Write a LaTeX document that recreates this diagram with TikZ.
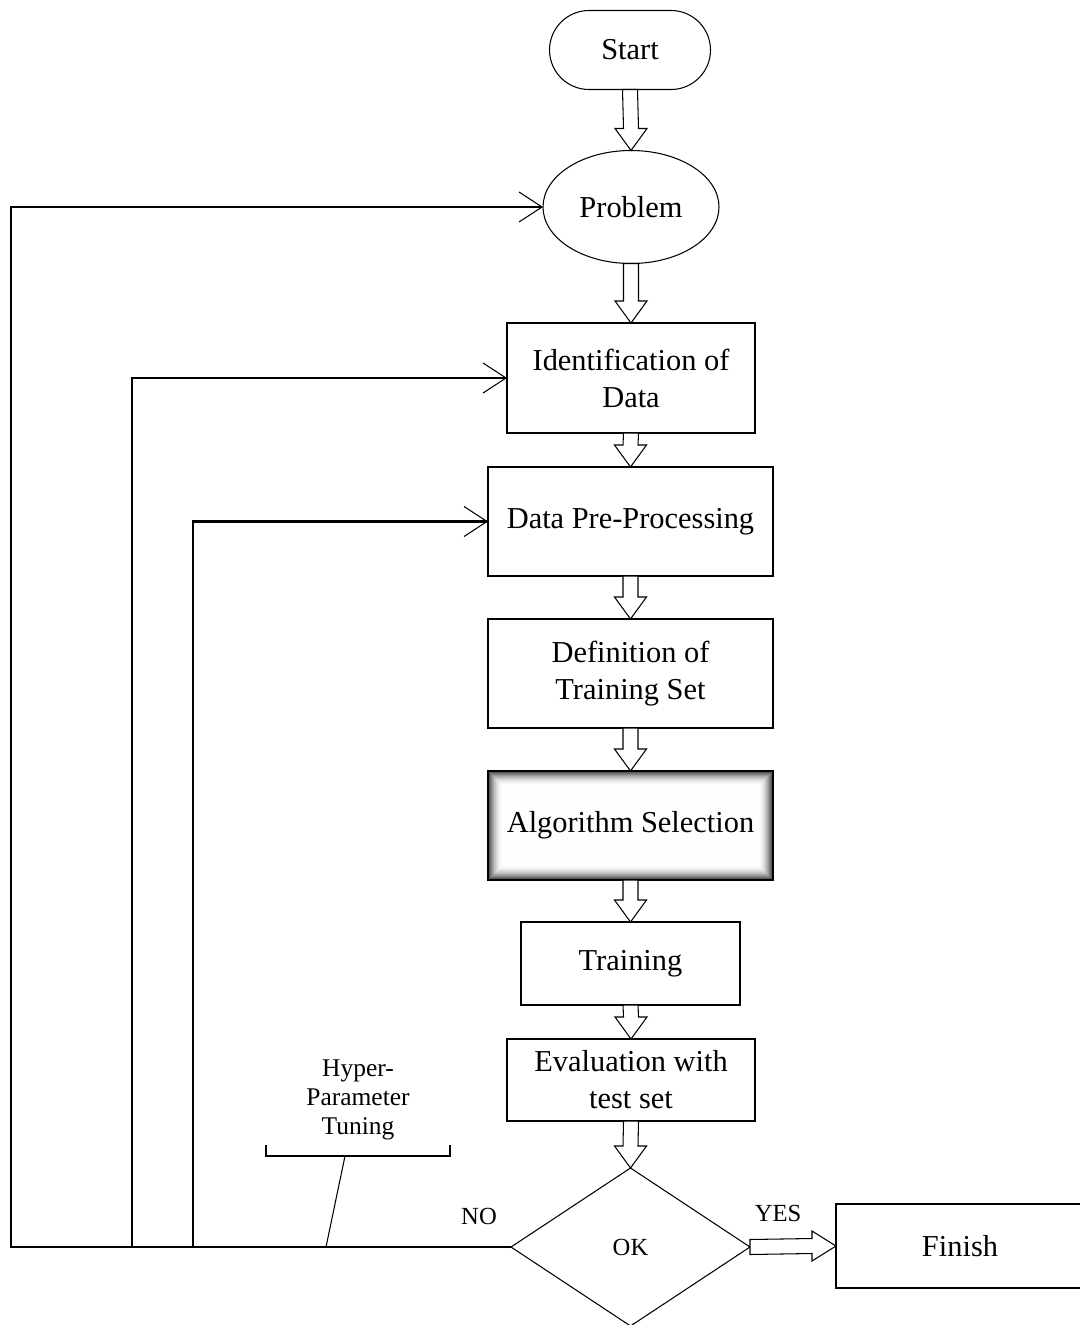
\documentclass[tikz,border=0pt]{standalone}
\usepackage{fontspec}
\setmainfont{Liberation Serif}
\usetikzlibrary{shapes.geometric,arrows.meta,calc}

\tikzset{
  box/.style={draw,line width=0.6pt,rectangle,align=center,inner sep=0pt,outer sep=0pt,
    font=\fontsize{17.3}{21}\selectfont},
  startbox/.style={box,minimum width=3.22cm,minimum height=1.58cm,rounded corners=0.79cm},
  probellipse/.style={box,ellipse,minimum width=3.52cm,minimum height=2.26cm},
  decision/.style={box,diamond,minimum width=4.78cm,minimum height=3.16cm,
    font=\fontsize{14}{17}\selectfont},
  glowbox/.style={box,path picture={
      \foreach \i in {0,...,14}{
        \pgfmathsetmacro\glowval{75*(1-\i/15)^2}
        \fill[black!\glowval] ($(path picture bounding box.south west)+(\i*0.02,\i*0.02)$)
          rectangle ($(path picture bounding box.north east)-(\i*0.02,\i*0.02)$);
      }}},
  smalltext/.style={align=center,inner sep=0pt,font=\fontsize{14}{16.4}\selectfont},
  fatarrow/.style={draw,fill=white,line width=0.6pt,line join=miter},
  loopline/.style={line width=1.2pt,-{Straight Barb[length=0.46cm,width=0.6cm,line width=0.6pt]}},
}

% hollow block arrows
\newcommand{\fatdown}[2]{%
  \path[fatarrow] ($(#1.south)+(-0.15,0)$) -- ($(#2.north)+(-0.15,0.44)$) -- ++(-0.17,0)
    -- (#2.north) -- ++(0.32,0.44) -- ++(-0.17,0) -- ($(#1.south)+(0.15,0)$) -- cycle;}
\newcommand{\fatright}[2]{%
  \path[fatarrow] ($(#1.east)+(0,0.15)$) -- ($(#2.west)+(-0.48,0.15)$) -- ++(0,0.15)
    -- (#2.west) -- ++(-0.48,-0.3) -- ++(0,0.15) -- ($(#1.east)+(0,-0.15)$) -- cycle;}

\begin{document}
\begin{tikzpicture}
    \useasboundingbox (0,0) rectangle (21.6,-26.5);
    \fill[white] (0,0) rectangle (21.6,-26.5);

    % main column
    \node[startbox] (start) at (12.6,-1.0) {Start};
    \node[probellipse] (problem) at (12.62,-4.14) {Problem};
    \node[box,minimum width=4.96cm,minimum height=2.2cm] (ident) at (12.62,-7.56) {Identification of\\Data};
    \node[box,minimum width=5.7cm,minimum height=2.18cm] (prep) at (12.61,-10.43) {Data Pre-Processing};
    \node[box,minimum width=5.7cm,minimum height=2.18cm] (defn) at (12.61,-13.47) {Definition of\\Training Set};
    \node[glowbox,minimum width=5.7cm,minimum height=2.18cm] (algo) at (12.61,-16.51) {Algorithm Selection};
    \node[box,minimum width=4.38cm,minimum height=1.66cm] (train) at (12.61,-19.27) {Training};
    \node[box,minimum width=4.96cm,minimum height=1.64cm] (eval) at (12.62,-21.6) {Evaluation with\\test set};
    \node[decision] (ok) at (12.61,-24.94) {OK};
    \node[box,minimum width=4.96cm,minimum height=1.68cm] (finish) at (19.2,-24.92) {Finish};

    \fatdown{start}{problem}
    \fatdown{problem}{ident}
    \fatdown{ident}{prep}
    \fatdown{prep}{defn}
    \fatdown{defn}{algo}
    \fatdown{algo}{train}
    \fatdown{train}{eval}
    \fatdown{eval}{ok}
    \fatright{ok}{finish}

    \node[smalltext] (no) at (9.58,-24.32) {NO};
    \node[smalltext] (yes) at (15.56,-24.26) {YES};

    % feedback loops
    \coordinate (loopa) at (0.22,-24.94);
    \coordinate (loopb) at (2.64,-24.94);
    \coordinate (loopc) at (3.86,-24.94);
    \draw[loopline] (ok.west) -- (loopa) |- (problem.west);
    \draw[loopline] (loopb) |- (ident.west);
    \draw[loopline] (loopc) |- (prep.west);

    % callout
    \node[smalltext,font=\fontsize{14.5}{16.6}\selectfont] (tuning) at (7.16,-22.0) {Hyper-\\Parameter\\Tuning};
    \coordinate (brleft) at (5.32,-23.12);
    \coordinate (brright) at (9.0,-23.12);
    \coordinate (brfoot) at (6.52,-24.94);
    \draw[line width=0.6pt] ($(brleft)+(0,0.22)$) -- (brleft) -- (brright) -- ++(0,0.22);
    \draw[line width=0.6pt] (6.9,-23.12) -- (brfoot);
\end{tikzpicture}
\end{document}
